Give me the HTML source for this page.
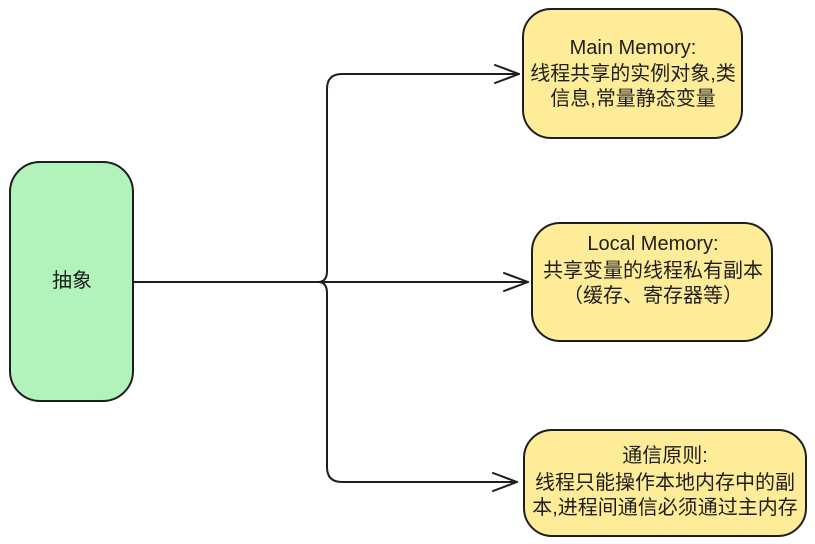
<!DOCTYPE html>
<html>
<head>
<meta charset="utf-8">
<style>
  html, body { margin:0; padding:0; background:#ffffff; }
  body { width:815px; height:544px; overflow:hidden; }
  svg { display:block; }
  text { font-family: "Liberation Sans", "Noto Sans CJK SC", sans-serif; font-size:20px; fill:#1e1e1e; }
</style>
</head>
<body>
<svg width="815" height="544" viewBox="0 0 815 544" xmlns="http://www.w3.org/2000/svg">
  <!-- boxes -->
  <rect x="10" y="162" width="123" height="239" rx="30" ry="30" fill="#b2f2bb" stroke="#1e1e1e" stroke-width="2"/>
  <rect x="523" y="9" width="219" height="129" rx="28" ry="28" fill="#ffec99" stroke="#1e1e1e" stroke-width="2"/>
  <rect x="532" y="223" width="240" height="118" rx="28" ry="28" fill="#ffec99" stroke="#1e1e1e" stroke-width="2"/>
  <rect x="524" y="430" width="282" height="106" rx="28" ry="28" fill="#ffec99" stroke="#1e1e1e" stroke-width="2"/>

  <!-- connectors -->
  <g fill="none" stroke="#1e1e1e" stroke-width="2" stroke-linecap="round" stroke-linejoin="round">
    <path d="M133 282 L528 282"/>
    <path d="M504 273 L528 282 L504 291"/>
    <path d="M318 282 Q327 282 327 271 L327 89 Q327 74 342 74 L519 74"/>
    <path d="M495 65 L519 74 L495 83"/>
    <path d="M318 282 Q327 282 327 293 L327 467 Q327 482 342 482 L517 482"/>
    <path d="M493 473 L517 482 L493 491"/>
  </g>

  <!-- labels -->
  <text x="72" y="287" text-anchor="middle">抽象</text>

  <text x="633" y="54" text-anchor="middle">Main Memory:</text>
  <text x="633" y="80" text-anchor="middle">线程共享的实例对象,类</text>
  <text x="633" y="105" text-anchor="middle">信息,常量静态变量</text>

  <text x="653" y="250" text-anchor="middle">Local Memory:</text>
  <text x="653" y="277" text-anchor="middle">共享变量的线程私有副本</text>
  <text x="653" y="302" text-anchor="middle">（缓存、寄存器等）</text>

  <text x="665" y="462" text-anchor="middle">通信原则:</text>
  <text x="665" y="489" text-anchor="middle">线程只能操作本地内存中的副</text>
  <text x="665" y="514" text-anchor="middle">本,进程间通信必须通过主内存</text>
</svg>
</body>
</html>
